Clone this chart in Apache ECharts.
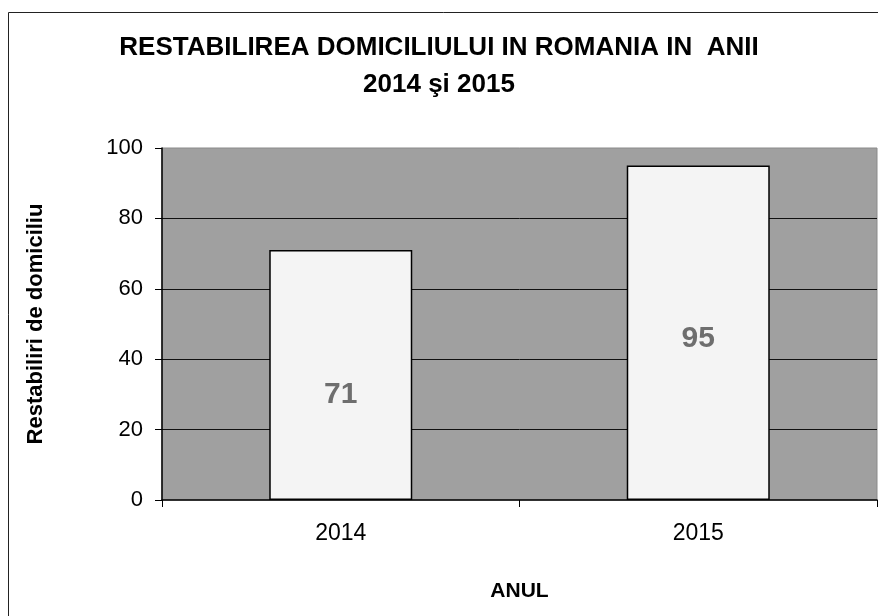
<!DOCTYPE html>
<html>
<head>
<meta charset="utf-8">
<script src="https://cdn.jsdelivr.net/npm/echarts@6/dist/echarts.min.js"></script>
<style>
  html, body { margin: 0; padding: 0; background: #fff; }
  #chart { width: 878px; height: 616px; }
</style>
</head>
<body>
<div id="chart"></div>
<script>
// date
var ani = ['2014', '2015'];
var restabiliri = [71, 95];
var yTicks = [0, 20, 40, 60, 80, 100];

var font = "'Liberation Sans', Arial, sans-serif";
var chart = echarts.init(document.getElementById('chart'));

chart.setOption({
    animation: false,
    backgroundColor: '#fff',
    textStyle: { fontFamily: font },
    title: {
        text: 'RESTABILIREA DOMICILIULUI IN ROMANIA IN  ANII\n2014 şi 2015',
        left: 'center',
        top: 29,
        padding: [0, 0, 0, 8],
        textStyle: {
            fontFamily: font,
            fontSize: 26,
            fontWeight: 'bold',
            color: '#000',
            lineHeight: 37
        }
    },
    // chenarul exterior
    graphic: [{
        type: 'rect',
        shape: { x: 8.5, y: 12.5, width: 900, height: 700 },
        style: { fill: 'none', stroke: '#222', lineWidth: 1 },
        silent: true
    }],
    grid: {
        left: 162,
        top: 148,
        right: 1,
        bottom: 116,
        show: true,
        backgroundColor: '#a0a0a0',
        borderColor: '#8a8a8a',
        borderWidth: 1
    },
    xAxis: {
        type: 'category',
        data: ani,
        name: 'ANUL',
        nameLocation: 'middle',
        nameGap: 81,
        nameTextStyle: { fontFamily: font, fontSize: 21, fontWeight: 'bold', color: '#000' },
        axisLine: { lineStyle: { color: '#000', width: 1.5 } },
        axisTick: { show: true, length: 7, lineStyle: { color: '#000' } },
        axisLabel: { fontFamily: font, fontSize: 23, color: '#000', margin: 22 }
    },
    yAxis: {
        type: 'value',
        min: yTicks[0],
        max: yTicks[yTicks.length - 1],
        interval: 20,
        name: 'Restabiliri de domiciliu',
        nameLocation: 'middle',
        nameGap: 115,
        nameTextStyle: { fontFamily: font, fontSize: 22, fontWeight: 'bold', color: '#000' },
        axisLine: { show: true, lineStyle: { color: '#000', width: 1.5 } },
        axisTick: { show: true, length: 7, lineStyle: { color: '#000' } },
        axisLabel: { fontFamily: font, fontSize: 22, color: '#000', margin: 19 },
        splitLine: {
            show: true,
            showMinLine: false,
            showMaxLine: false,
            lineStyle: { color: '#111', width: 1 }
        }
    },
    series: [{
        type: 'bar',
        barWidth: '40%',
        data: [
            { value: restabiliri[0], label: { offset: [0, 20] } },
            { value: restabiliri[1], label: { offset: [0, 6] } }
        ],
        itemStyle: { color: '#f4f4f4', borderColor: '#000', borderWidth: 1.5 },
        label: {
            show: true,
            position: 'inside',
            fontFamily: font,
            fontSize: 30,
            fontWeight: 'bold',
            color: '#6e6e6e'
        }
    }]
});
</script>
</body>
</html>
